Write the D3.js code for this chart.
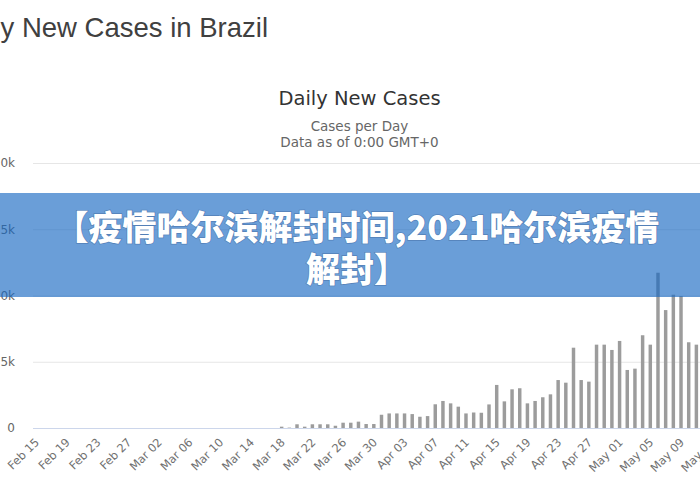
<!DOCTYPE html>
<html>
<head>
<meta charset="utf-8">
<script src="https://cdn.jsdelivr.net/npm/d3@7"></script>
<style>
  html, body { margin: 0; padding: 0; background: #fff; }
  svg { display: block; }
</style>
</head>
<body>
<svg id="chart" width="700" height="490"></svg>
<script>
// ---- data ----
const firstDate = "2020-02-15";
const lastAxisDate = "2020-05-15";
// daily new cases, one per day starting Feb 15 (zeros before Mar 18)
const cases = [
  // Feb 15 - Feb 29
  0,0,0,0,0,0,0,0,0,0,0,0,0,0,0,
  // Mar 01 - Mar 17
  0,0,0,0,0,0,0,0,0,0,0,0,0,0,0,0,0,
  // Mar 18 - Mar 31
  100,30,280,100,280,280,280,170,400,400,480,300,300,1000,
  // Apr 01 - Apr 30
  1100,1100,1100,1050,850,900,1790,2040,1860,1610,1100,1170,1150,1780,3250,
  2010,2920,3000,1860,2040,2320,2540,3620,3420,6060,3620,3500,6290,6290,5890,
  // May 01 - May 11
  6570,4380,4480,7000,6290,11720,8900,10060,9960,6470,6290
];
const yTicks = [0, 5000, 10000, 15000, 20000];
const yTickLabels = ["0", "5k", "10k", "15k", "20k"];
const tickEvery = 4; // x-axis label every 4 days
const pageTitle = "Daily New Cases in Brazil";
const chartTitle = "Daily New Cases";
const subtitleLines = ["Cases per Day", "Data as of 0:00 GMT+0"];
const bannerLines = ["【疫情哈尔滨解封时间,2021哈尔滨疫情", "解封】"];

// ---- setup ----
const svg = d3.select("#chart");
const parse = d3.timeParse("%Y-%m-%d");
const fmt = d3.timeFormat("%b %d");
const days = d3.timeDay.range(parse(firstDate), d3.timeDay.offset(parse(lastAxisDate), 1));
const data = cases.map((v, i) => ({ date: days[i], value: v }));

const step = 7.68;
const x = d3.scaleBand()
  .domain(days.map(d => +d))
  .range([32.06, 32.06 + days.length * step])
  .paddingInner(0.55)
  .paddingOuter(0.275);

const y = d3.scaleLinear().domain([0, 20000]).range([428, 163]);

// page title (cropped on the left like the source)
svg.append("text")
  .attr("x", 268).attr("y", 37)
  .attr("text-anchor", "end")
  .attr("font-family", "Liberation Sans, Arial, sans-serif")
  .attr("font-size", 27.5)
  .attr("fill", "#404040")
  .text(pageTitle);

// chart title & subtitle
svg.append("text")
  .attr("x", 359.5).attr("y", 105)
  .attr("text-anchor", "middle")
  .attr("font-family", "DejaVu Sans, sans-serif")
  .attr("font-size", 19.5)
  .attr("fill", "#333")
  .text(chartTitle);

svg.selectAll("text.sub").data(subtitleLines).enter().append("text")
  .attr("class", "sub")
  .attr("x", 359.5).attr("y", (d, i) => 131 + i * 16)
  .attr("text-anchor", "middle")
  .attr("font-family", "DejaVu Sans, sans-serif")
  .attr("font-size", 13.5)
  .attr("fill", "#666")
  .text(d => d);

// grid + y axis labels
const yAxis = d3.axisLeft(y)
  .tickValues(yTicks)
  .tickSize(-(700 - 33))
  .tickFormat((d, i) => yTickLabels[i]);
const gy = svg.append("g")
  .attr("transform", "translate(33,0)")
  .call(yAxis);
gy.select(".domain").remove();
gy.selectAll(".tick line").attr("stroke", "#e6e6e6").attr("stroke-width", 1);
gy.selectAll(".tick text")
  .attr("x", -18)
  .attr("dy", "0.32em")
  .attr("font-family", "DejaVu Sans, sans-serif")
  .attr("font-size", 12)
  .attr("fill", "#666");

// bars
svg.append("g").selectAll("rect").data(data).enter().append("rect")
  .attr("x", d => x(+d.date))
  .attr("width", x.bandwidth())
  .attr("y", d => y(d.value))
  .attr("height", d => y(0) - y(d.value))
  .attr("fill", "#9c9c9c");

// x axis
const xAxis = d3.axisBottom(x)
  .tickValues(days.filter((d, i) => i % tickEvery === 0).map(d => +d))
  .tickSize(0)
  .tickFormat(d => fmt(new Date(d)));
const gx = svg.append("g")
  .attr("transform", "translate(0,428)")
  .call(xAxis);
gx.select(".domain").attr("stroke", "#ccd6eb").attr("d", "M33,0.5H700");
gx.selectAll(".tick text")
  .attr("font-family", "DejaVu Sans, sans-serif")
  .attr("font-size", 11.5)
  .attr("fill", "#707070")
  .attr("text-anchor", "end")
  .attr("dy", 0)
  .attr("y", 0)
  .attr("transform", "translate(4,15) rotate(-45)");

// overlay banner
svg.append("rect")
  .attr("x", 0).attr("y", 193)
  .attr("width", 700).attr("height", 104)
  .attr("fill", "rgb(22,103,194)")
  .attr("fill-opacity", 0.64);

svg.selectAll("text.banner").data(bannerLines).enter().append("text")
  .attr("class", "banner")
  .attr("x", 357).attr("y", (d, i) => 240 + i * 42)
  .attr("text-anchor", "middle")
  .attr("font-family", "Noto Sans CJK SC, sans-serif")
  .attr("font-weight", 900)
  .attr("font-size", 34)
  .attr("fill", "#fff")
  .style("paint-order", "stroke")
  .attr("stroke", "rgba(40,70,120,0.35)")
  .attr("stroke-width", 1.5)
  .text(d => d);
</script>
</body>
</html>
